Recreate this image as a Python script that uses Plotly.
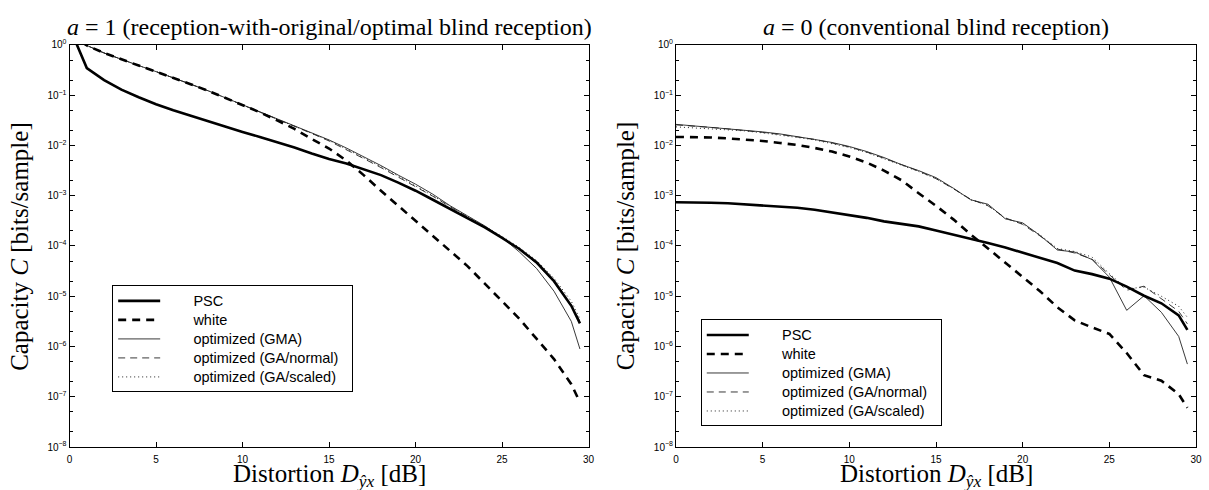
import numpy as np
import plotly.graph_objects as go

# Distortion grid [dB]
distortion_db = [0, 1, 2, 3, 4, 5, 6, 7, 8, 9, 10, 11, 12, 13, 14, 15, 16, 17, 18, 19,
                 20, 21, 22, 23, 24, 25, 26, 27, 28, 29, 29.5]

# Capacities as log10(C), a = 1 (reception-with-original / optimal blind reception)
psc_a1_log10 = [0.35, -0.46, -0.70, -0.89, -1.04, -1.18, -1.30, -1.41, -1.52, -1.63, -1.73,
                -1.83, -1.93, -2.04, -2.16, -2.27, -2.36, -2.47, -2.59, -2.74, -2.90, -3.08,
                -3.26, -3.44, -3.63, -3.84, -4.06, -4.33, -4.70, -5.19, -5.54]
white_a1_log10 = [0.22, -0.01, -0.16, -0.29, -0.41, -0.53, -0.65, -0.78, -0.91, -1.05, -1.19,
                  -1.34, -1.50, -1.67, -1.87, -2.06, -2.30, -2.59, -2.90, -3.20, -3.50, -3.80,
                  -4.10, -4.40, -4.75, -5.10, -5.45, -5.85, -6.25, -6.75, -7.11]
gma_a1_log10 = [0.24, -0.01, -0.16, -0.29, -0.41, -0.53, -0.65, -0.78, -0.91, -1.05, -1.19,
                -1.33, -1.48, -1.61, -1.75, -1.89, -2.05, -2.22, -2.40, -2.59, -2.77, -2.97,
                -3.20, -3.40, -3.60, -3.83, -4.12, -4.45, -4.90, -5.50, -6.05]
ga_normal_a1_log10 = [0.23, -0.01, -0.16, -0.29, -0.41, -0.53, -0.65, -0.78, -0.91, -1.05, -1.19,
                      -1.33, -1.48, -1.62, -1.76, -1.91, -2.08, -2.26, -2.44, -2.63, -2.82, -3.01,
                      -3.22, -3.42, -3.62, -3.83, -4.07, -4.35, -4.72, -5.17, -5.50]
ga_scaled_a1_log10 = [0.23, -0.01, -0.16, -0.29, -0.41, -0.53, -0.65, -0.78, -0.91, -1.05, -1.19,
                      -1.33, -1.48, -1.62, -1.76, -1.90, -2.07, -2.24, -2.42, -2.61, -2.80, -3.00,
                      -3.21, -3.41, -3.61, -3.81, -4.03, -4.29, -4.64, -5.10, -5.45]

# Capacities as log10(C), a = 0 (conventional blind reception)
psc_a0_log10 = [-3.13, -3.13, -3.14, -3.15, -3.17, -3.19, -3.21, -3.24, -3.28, -3.33, -3.38,
                -3.44, -3.51, -3.56, -3.61, -3.69, -3.77, -3.85, -3.94, -4.03, -4.13, -4.23,
                -4.34, -4.49, -4.56, -4.65, -4.81, -4.99, -5.14, -5.38, -5.67]
white_a0_log10 = [-1.83, -1.83, -1.84, -1.86, -1.88, -1.91, -1.95, -1.99, -2.05, -2.12, -2.22,
                  -2.34, -2.50, -2.69, -2.95, -3.20, -3.47, -3.77, -4.05, -4.33, -4.61, -4.90,
                  -5.22, -5.48, -5.62, -5.75, -6.13, -6.57, -6.68, -6.95, -7.22]
gma_a0_log10 = [-1.58, -1.61, -1.64, -1.66, -1.69, -1.73, -1.77, -1.82, -1.88, -1.94, -2.02,
                -2.12, -2.24, -2.38, -2.50, -2.64, -2.85, -3.08, -3.17, -3.46, -3.54, -3.79,
                -4.08, -4.12, -4.27, -4.62, -5.28, -4.99, -5.32, -5.80, -6.35]
ga_normal_a0_log10 = [-1.59, -1.61, -1.64, -1.67, -1.70, -1.74, -1.78, -1.83, -1.88, -1.95, -2.03,
                      -2.13, -2.25, -2.38, -2.51, -2.66, -2.86, -3.07, -3.20, -3.44, -3.57, -3.80,
                      -4.06, -4.14, -4.26, -4.58, -4.88, -4.80, -5.05, -5.30, -5.55]
ga_scaled_a0_log10 = [-1.63, -1.65, -1.67, -1.69, -1.71, -1.75, -1.79, -1.84, -1.89, -1.96, -2.04,
                      -2.14, -2.26, -2.39, -2.52, -2.66, -2.86, -3.08, -3.19, -3.45, -3.56, -3.78,
                      -4.05, -4.11, -4.22, -4.55, -4.85, -4.82, -5.00, -5.20, -5.42]

series_names = ["PSC", "white", "optimized (GMA)", "optimized (GA/normal)", "optimized (GA/scaled)"]
y_tick_exponents = [0, -1, -2, -3, -4, -5, -6, -7, -8]
x_tick_values = [0, 5, 10, 15, 20, 25, 30]

line_styles = [
    dict(color="black", width=2.6, dash="solid"),
    dict(color="black", width=2.6, dash="8px,6px"),
    dict(color="#222", width=0.9, dash="solid"),
    dict(color="#222", width=0.9, dash="7px,5px"),
    dict(color="#222", width=1.0, dash="1px,3px"),
]

panels = [
    dict(xa="x", ya="y", legend="legend",
         data=[psc_a1_log10, white_a1_log10, gma_a1_log10, ga_normal_a1_log10, ga_scaled_a1_log10]),
    dict(xa="x2", ya="y2", legend="legend2",
         data=[psc_a0_log10, white_a0_log10, gma_a0_log10, ga_normal_a0_log10, ga_scaled_a0_log10]),
]

# legend labels: larger text than the row pitch font, pushed right of the line key
gap = "\u00a0" * 7
label_html = '<span style="font-size:14.5px">' + gap + "%s\u00a0\u00a0</span>"

fig = go.Figure()
for p in panels:
    # thin curves drawn first so thick ones sit on top; legend keeps series order
    for i in [4, 3, 2, 1, 0]:
        fig.add_trace(go.Scatter(
            x=distortion_db, y=10 ** np.array(p["data"][i]),
            mode="lines", name=label_html % series_names[i], line=line_styles[i],
            xaxis=p["xa"], yaxis=p["ya"], legend=p["legend"], legendrank=i + 1,
        ))

W, H = 1209, 490
tick_font = dict(family="Liberation Sans, Arial, sans-serif", size=10, color="black")
serif = "Liberation Serif, Times New Roman, serif"

x_domains = [(67 / W, 590 / W), (678 / W, 1202 / W)]
y_domain = ((H - 452) / H, (H - 39) / H)

common_x = dict(range=[0, 30], tickvals=x_tick_values, ticks="inside", ticklen=5,
                tickcolor="black", showline=True, linecolor="black", linewidth=1,
                mirror="ticks", showgrid=False, zeroline=False, tickfont=tick_font,
                ticklabelstandoff=3)
common_y = dict(type="log", range=[-8, 0],
                tickvals=[10.0 ** e for e in y_tick_exponents],
                ticktext=["10<sup>%s</sup>" % ("0" if e == 0 else "\u2212%d" % -e) for e in y_tick_exponents],
                ticks="inside", ticklen=5, tickcolor="black",
                minor=dict(ticks="inside", ticklen=3, tickcolor="black", showgrid=False),
                showline=True, linecolor="black", linewidth=1, mirror="ticks",
                showgrid=False, zeroline=False, tickfont=tick_font)

fig.update_layout(
    width=W, height=H, margin=dict(l=0, r=0, t=0, b=0),
    paper_bgcolor="white", plot_bgcolor="white", showlegend=True,
    xaxis=dict(domain=x_domains[0], anchor="y", **common_x),
    yaxis=dict(domain=y_domain, anchor="x", **common_y),
    xaxis2=dict(domain=x_domains[1], anchor="y2", **common_x),
    yaxis2=dict(domain=y_domain, anchor="x2", **common_y),
)

legend_style = dict(bgcolor="white", bordercolor="black", borderwidth=1,
                    font=dict(family="Liberation Sans, Arial, sans-serif", size=12, color="black"),
                    xanchor="left", yanchor="top", itemwidth=42, tracegroupgap=0,
                    traceorder="normal")
fig.update_layout(
    legend=dict(x=110 / W, y=(H - 286) / H, **legend_style),
    legend2=dict(x=703 / W, y=(H - 321) / H, **legend_style),
)

titles = [
    ("<i>a</i> = 1 (reception-with-original/optimal blind reception)", (67 + 590) / 2),
    ("<i>a</i> = 0 (conventional blind reception)", (678 + 1202) / 2),
]
for text, cx in titles:
    fig.add_annotation(text=text, x=cx / W, y=(H - 21) / H, xref="paper", yref="paper",
                       showarrow=False, xanchor="center", yanchor="middle",
                       font=dict(family=serif, size=24, color="black"))

for dom in x_domains:
    cx = (dom[0] + dom[1]) / 2
    fig.add_annotation(text="Distortion <i>D</i><sub><i>\u0177x</i></sub> [dB]",
                       x=cx, y=(H - 481) / H, xref="paper", yref="paper", showarrow=False,
                       xanchor="center", yanchor="middle",
                       font=dict(family=serif, size=25, color="black"))
    fig.add_annotation(text="Capacity <i>C</i> [bits/sample]",
                       x=dom[0] - 50 / W, y=(y_domain[0] + y_domain[1]) / 2,
                       xref="paper", yref="paper", showarrow=False, textangle=-90,
                       xanchor="center", yanchor="middle",
                       font=dict(family=serif, size=25, color="black"))

fig.write_html("out.html")
